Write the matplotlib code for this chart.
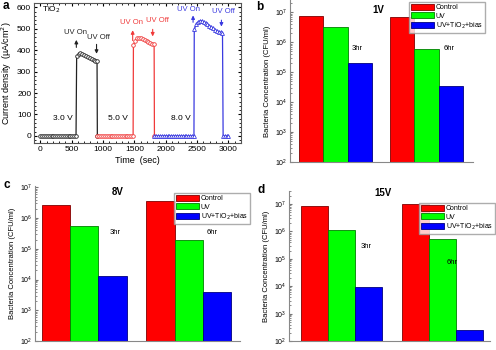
import matplotlib
matplotlib.use('Agg')
import matplotlib.pyplot as plt

plt.rcParams['font.family'] = ['Liberation Sans', 'DejaVu Sans']

# panel a: current density vs time
t_black = [0, 30, 60, 90, 120, 150, 180, 210, 240, 270, 300, 330, 360, 390, 420, 450, 480, 510, 540, 570,
           580, 610, 640, 670, 700, 730, 760, 790, 820, 850, 880, 905, 910]
j_black = [0, 0, 0, 0, 0, 0, 0, 0, 0, 0, 0, 0, 0, 0, 0, 0, 0, 0, 0, 0,
           373, 380, 385, 383, 379, 374, 369, 364, 359, 355, 351, 348, 0]
t_red = [910, 940, 970, 1000, 1030, 1060, 1090, 1120, 1150, 1180, 1210, 1240, 1270, 1300, 1330, 1360, 1390,
         1420, 1450, 1480, 1485, 1515, 1545, 1575, 1605, 1635, 1665, 1695, 1725, 1755, 1785, 1815, 1820]
j_red = [0, 0, 0, 0, 0, 0, 0, 0, 0, 0, 0, 0, 0, 0, 0, 0, 0,
         0, 0, 0, 424, 445, 455, 458, 456, 452, 447, 442, 438, 434, 431, 427, 0]
t_blue = [1820, 1850, 1880, 1910, 1940, 1970, 2000, 2030, 2060, 2090, 2120, 2150, 2180, 2210, 2240, 2270,
          2300, 2330, 2360, 2390, 2420, 2450, 2455, 2485, 2515, 2545, 2575, 2605, 2635, 2665, 2695, 2725,
          2755, 2785, 2815, 2845, 2875, 2905, 2915, 2945, 2975, 3000]
j_blue = [0, 0, 0, 0, 0, 0, 0, 0, 0, 0, 0, 0, 0, 0, 0, 0,
          0, 0, 0, 0, 0, 0, 497, 520, 532, 537, 537, 533, 528, 522, 515, 508,
          502, 496, 491, 487, 483, 479, 0, 0, 0, 0]

# panels b-d: bacteria concentration
groups = ['3hr', '6hr']
series = ['Control', 'UV', 'UV+TiO$_2$+bias']
conc_1V = [[7.7e6, 7.2e6], [3.2e6, 5.8e5], [2.1e5, 3.5e4]]
conc_8V = [[2.7e6, 3.6e6], [5.5e5, 1.9e5], [1.3e4, 4.0e3]]
conc_15V = [[8.3e6, 9.8e6], [1.17e6, 5.4e5], [9.0e3, 2.5e2]]

bar_colors = ['#ff0000', '#00ff00', '#0000ff']
edge_colors = ['#800000', '#008000', '#000080']

fig = plt.figure(figsize=(4.96, 3.5), dpi=100)

W, H = 496.0, 350.0
def px_axes(l, t, r, b):
    return fig.add_axes([l / W, 1 - b / H, (r - l) / W, (b - t) / H])

# ---- panel a
ax = px_axes(34, 3, 241, 143)
ax.plot(t_black, j_black, color='#222222', lw=0.9, marker='o', ms=2.6, mfc='white', mew=0.6)
ax.plot(t_red, j_red, color='#f03a3a', lw=0.9, marker='o', ms=2.6, mfc='white', mew=0.6)
ax.plot(t_blue, j_blue, color='#3a3ae0', lw=0.9, marker='^', ms=2.8, mfc='white', mew=0.6)
ax.set_xlim(-100, 3200)
ax.set_ylim(-33, 620)
ax.set_xticks([0, 500, 1000, 1500, 2000, 2500, 3000])
ax.set_yticks([0, 100, 200, 300, 400, 500, 600])
ax.minorticks_on()
ax.tick_params(which='both', direction='in', top=True, right=True, labelsize=6, pad=2)
ax.tick_params(which='major', length=2.5)
ax.tick_params(which='minor', length=1.3)
for s in ax.spines.values():
    s.set_color('#555555')
    s.set_linewidth(0.8)
ax.set_xlabel('Time  (sec)', fontsize=6.5, labelpad=2)
ax.set_ylabel('Current density  (\u00b5A/cm$^2$)', fontsize=6.5, labelpad=2)
ax.text(27, 590, 'TiO$_2$', fontsize=6, va='center')
for x, lab in [(362, '3.0 V'), (1234, '5.0 V'), (2234, '8.0 V')]:
    ax.text(x, 82, lab, fontsize=6, ha='center', va='center')

arrows = [
    ('#222222', 575, 400, 461, 558, 483, 'UV On'),
    ('#222222', 897, 440, 370, 931, 460, 'UV Off'),
    ('#f03a3a', 1473, 432, 506, 1452, 528, 'UV On'),
    ('#f03a3a', 1792, 510, 451, 1862, 538, 'UV Off'),
    ('#3a3ae0', 2436, 517, 575, 2367, 592, 'UV On'),
    ('#3a3ae0', 2888, 553, 497, 2915, 580, 'UV Off'),
]
for c, x, y0, y1, tx, ty, lab in arrows:
    ax.annotate('', xy=(x, y1), xytext=(x, y0),
                arrowprops=dict(arrowstyle='-|>', color=c, lw=0.8, mutation_scale=5))
    ax.text(tx, ty, lab, color=c, fontsize=5.5, ha='center', va='center')

# ---- bar panels
def bar_panel(box, data, title, title_xy, ylim, xlim, hr_xy, leg_anchor):
    ax = px_axes(*box)
    w = 0.27
    for i in range(3):
        xs = [g + (i - 1) * w for g in range(len(groups))]
        ax.bar(xs, data[i], w, color=bar_colors[i], edgecolor=edge_colors[i], lw=0.6,
               label=series[i])
    ax.set_yscale('log')
    ax.set_ylim(*ylim)
    ax.set_xlim(*xlim)
    ax.set_xticks([])
    ax.spines['top'].set_visible(False)
    ax.spines['right'].set_visible(False)
    for s in ['left', 'bottom']:
        ax.spines[s].set_color('#888888')
        ax.spines[s].set_linewidth(0.8)
    ax.tick_params(which='both', direction='in', labelsize=5, pad=2, color='#777777')
    ax.tick_params(which='major', length=2.5)
    ax.tick_params(which='minor', length=1.3)
    ax.set_ylabel('Bacteria Concentration (CFU/ml)', fontsize=5.5, labelpad=3)
    ax.text(title_xy[0], title_xy[1], title, transform=fig.transFigure, fontsize=7,
            fontweight='bold', ha='center', va='center')
    for (x, y), g in zip(hr_xy, groups):
        ax.text(x / W, 1 - y / H, g, transform=fig.transFigure, fontsize=5.5,
                ha='center', va='center')
    ax.legend(loc='upper right', bbox_to_anchor=leg_anchor, bbox_transform=fig.transFigure,
              fontsize=5, frameon=True, fancybox=False, edgecolor='#999999',
              handlelength=3.2, handleheight=0.9, handletextpad=0.3, labelspacing=0.15,
              borderpad=0.3, borderaxespad=0)
    return ax

bar_panel((290, 0, 473, 162), conc_1V, '1V', (378 / W, 1 - 10 / H), (1e2, 2.6e7), (-0.5, 1.51),
          [(357, 48), (449, 49)], (485 / W, 1 - 2 / H))
bar_panel((35, 186, 240, 341), conc_8V, '8V', (118 / W, 1 - 192 / H), (1e2, 1.1e7), (-0.47, 1.49),
          [(115, 232), (212, 233)], (250 / W, 1 - 193 / H))
bar_panel((289, 191, 490, 341), conc_15V, '15V', (383 / W, 1 - 193 / H), (1e2, 3e7), (-0.52, 1.47),
          [(366, 247), (452, 263)], (495 / W, 1 - 203 / H))

for x, y, lab in [(3, 6, 'a'), (256, 7, 'b'), (3, 185, 'c'), (258, 190, 'd')]:
    fig.text(x / W, 1 - y / H, lab, fontsize=8.5, fontweight='bold', va='center')

fig.savefig('out.png', dpi=100)
